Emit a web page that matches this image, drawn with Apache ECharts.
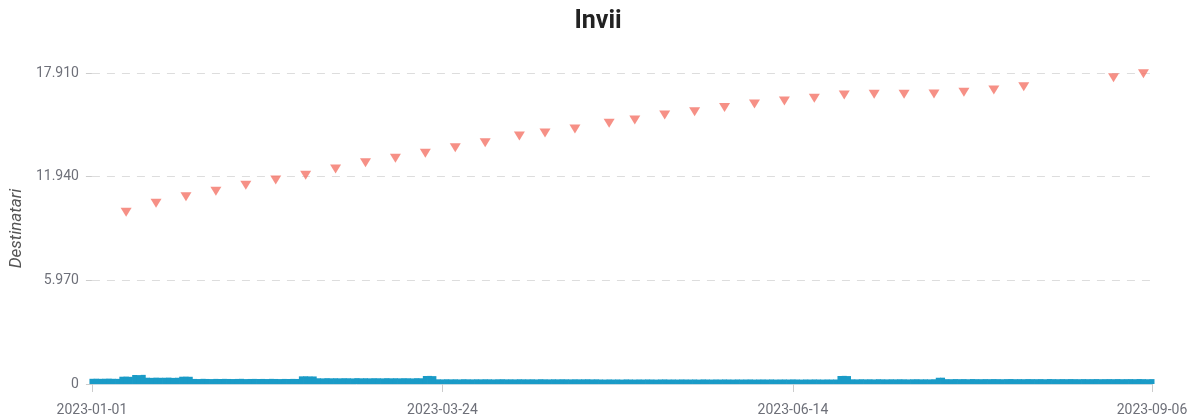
<!DOCTYPE html>
<html>
<head>
<meta charset="utf-8">
<script src="https://cdn.jsdelivr.net/npm/echarts@6/dist/echarts.min.js"></script>
<style>
html,body{margin:0;padding:0;background:#fff;}
#chart{width:1196px;height:417px;}
</style>
</head>
<body>
<div id="chart"></div>
<script>
// ---- data ----
const titleText = 'Invii';
const yAxisName = 'Destinatari';
const startDate = '2023-01-01';
const endDate = '2023-09-06';
const xTickLabels = ['2023-01-01', '2023-03-24', '2023-06-14', '2023-09-06'];
const yTicks = [0, 5970, 11940, 17910];

// daily bar values (one per day, 2023-01-01 .. 2023-09-06)
const dailyValues = [
  300,306,298,304,310,300,296,
  420,428,414,
  520,512,526,
  362,354,366,358,360,368,352,360,
  420,426,416,
  292,286,298,290,284,294,288,296,290,286,292,298,284,290,294,288,292,286,296,290,284,292,288,294,290,
  440,446,438,434,
  330,324,336,328,332,326,334,330,322,338,328,332,326,334,330,324,336,328,332,326,334,330,322,336,330,
  460,466,454,
  270,266,274,268,272,264,276,270,266,272,268,274,270,264,272,276,268,270,266,274,270,268,272,264,276,270,266,272,268,274,270,266,272,268,270,274,266,270,
  260,256,264,258,262,254,266,260,256,262,258,264,260,254,262,266,258,260,256,264,260,258,262,254,266,260,256,262,258,264,260,256,262,258,260,264,256,260,262,258,264,256,260,262,258,266,260,254,262,258,264,260,256,262,258,260,
  460,468,456,
  270,266,274,268,272,264,276,270,266,272,268,274,270,264,272,276,268,270,266,274,
  360,364,
  280,276,284,278,282,274,286,280,276,282,278,284,280,274,282,286,278,280,276,284,280,278,282,274,286,280,276,282,278,284,280,276,282,278,280,284,276,280,282,278,284,276,280,282,278,286,280,274,282
];

// weekly scatter points
const pointDates = [
  '2023-01-09','2023-01-16','2023-01-23','2023-01-30','2023-02-06','2023-02-13','2023-02-20','2023-02-27',
  '2023-03-06','2023-03-13','2023-03-20','2023-03-27','2023-04-03','2023-04-11','2023-04-17','2023-04-24',
  '2023-05-02','2023-05-08','2023-05-15','2023-05-22','2023-05-29','2023-06-05','2023-06-12','2023-06-19',
  '2023-06-26','2023-07-03','2023-07-10','2023-07-17','2023-07-24','2023-07-31','2023-08-07','2023-08-28',
  '2023-09-04'
];
const pointValues = [
  9890,10407,10787,11098,11443,11748,12019,12382,
  12745,12998,13286,13609,13896,14282,14455,14685,
  15014,15204,15492,15682,15924,16125,16298,16453,
  16644,16684,16684,16701,16799,16932,17122,17640,
  17860
];

// ---- build categories (every calendar day) ----
function pad(n){return n<10?'0'+n:''+n;}
const categories = [];
(function(){
  const s = new Date(startDate + 'T00:00:00Z');
  const e = new Date(endDate + 'T00:00:00Z');
  for (let d = new Date(s); d <= e; d.setUTCDate(d.getUTCDate()+1)) {
    categories.push(d.getUTCFullYear()+'-'+pad(d.getUTCMonth()+1)+'-'+pad(d.getUTCDate()));
  }
})();

const scatterData = pointDates.map((d,i)=>[d, pointValues[i]]);
const showLabel = (idx, val) => xTickLabels.indexOf(val) >= 0;
function itFmt(v){ return String(Math.round(v)).replace(/\B(?=(\d{3})+(?!\d))/g, '.'); }

const chart = echarts.init(document.getElementById('chart'), null, {renderer:'canvas'});
chart.setOption({
  animation: false,
  backgroundColor: '#fff',
  title: {
    text: titleText,
    left: 'center',
    top: 4,
    textStyle: {fontFamily: 'Roboto', fontSize: 25, fontWeight: 'bold', color: '#222'}
  },
  grid: {left: 91, right: 44, top: 73, bottom: 33, containLabel: false},
  xAxis: {
    type: 'category',
    data: categories,
    boundaryGap: false,
    axisLine: {show: true, lineStyle: {color: '#c5d9e2', width: 1}},
    axisTick: {show: true, interval: showLabel, length: 8, lineStyle: {color: '#ccc'}},
    axisLabel: {interval: showLabel, margin: 19, fontFamily: 'Roboto', fontSize: 14, color: '#6e7079', showMaxLabel: true},
    splitLine: {show: false}
  },
  yAxis: {
    type: 'value',
    min: 0,
    max: 17910,
    interval: 5970,
    name: yAxisName,
    nameLocation: 'middle',
    nameGap: 66,
    nameTextStyle: {fontFamily: 'Roboto', fontSize: 17, fontStyle: 'italic', color: '#555'},
    axisLine: {show: false},
    axisTick: {show: true, length: 6, lineStyle: {color: '#ccc'}},
    axisLabel: {margin: 13, fontFamily: 'Roboto', fontSize: 14, color: '#6e7079', formatter: itFmt},
    splitLine: {show: true, lineStyle: {color: '#ddd', type: [8, 7]}}
  },
  series: [
    {
      type: 'bar',
      data: dailyValues,
      barWidth: 5,
      barGap: '-100%',
      itemStyle: {color: '#1a9bc7', borderWidth: 0},
      z: 2
    },
    {
      type: 'scatter',
      data: scatterData,
      symbol: 'triangle',
      symbolRotate: 180,
      symbolSize: [11, 9],
      itemStyle: {color: '#f47468'},
      z: 3
    }
  ]
});
</script>
</body>
</html>
